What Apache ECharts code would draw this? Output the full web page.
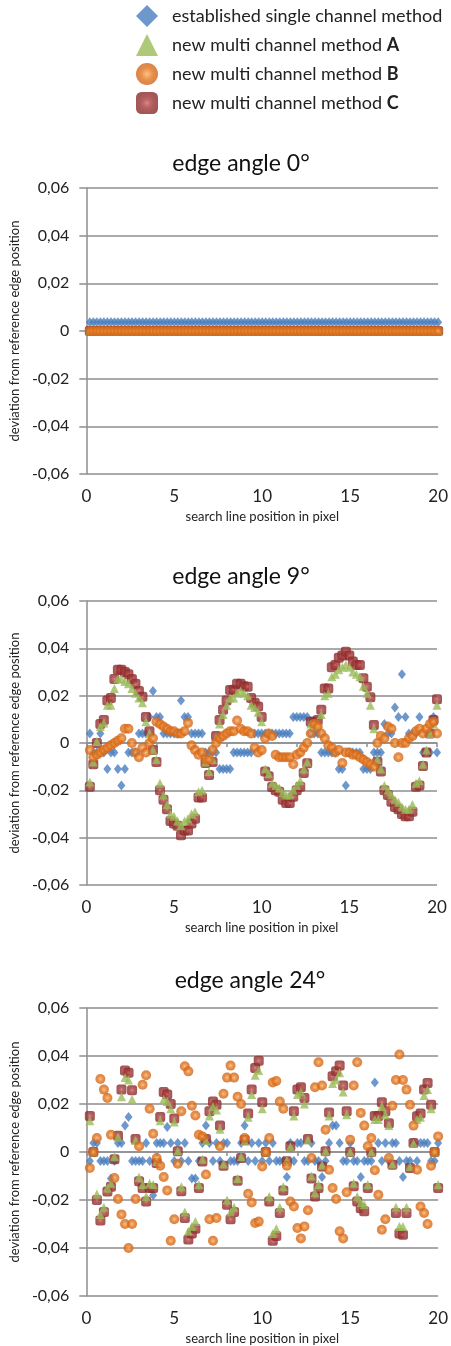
<!DOCTYPE html>
<html><head><meta charset="utf-8">
<script src="https://cdn.jsdelivr.net/npm/echarts@6/dist/echarts.min.js"></script>
<style>html,body{margin:0;padding:0;background:#fff}#c{width:451px;height:1346px}</style>
</head><body><div id="c"></div>
<script>
// ---------- data ----------
const positions = [0.2,0.4,0.6,0.8,1,1.2,1.4,1.6,1.8,2,2.2,2.4,2.6,2.8,3,3.2,3.4,3.6,3.8,4,
4.2,4.4,4.6,4.8,5,5.2,5.4,5.6,5.8,6,6.2,6.4,6.6,6.8,7,7.2,7.4,7.6,7.8,8,
8.2,8.4,8.6,8.8,9,9.2,9.4,9.6,9.8,10,10.2,10.4,10.6,10.8,11,11.2,11.4,11.6,11.8,12,
12.2,12.4,12.6,12.8,13,13.2,13.4,13.6,13.8,14,14.2,14.4,14.6,14.8,15,15.2,15.4,15.6,15.8,16,
16.2,16.4,16.6,16.8,17,17.2,17.4,17.6,17.8,18,18.2,18.4,18.6,18.8,19,19.2,19.4,19.6,19.8,20];

const chartTitles = ['edge angle 0°','edge angle 9°','edge angle 24°'];
const seriesNames = ['established single channel method','new multi channel method A','new multi channel method B','new multi channel method C'];
const xTickLabels = ['0','5','10','15','20'];
const yTickValues = [-0.06,-0.04,-0.02,0,0.02,0.04,0.06];
const yTickLabels = ['-0,06','-0,04','-0,02','0','0,02','0,04','0,06'];
const xAxisName = 'search line position in pixel';
const yAxisName = 'deviation from reference edge position';

// edge angle 0°
const single0 = [0.0037,0.0037,0.0037,0.0037,0.0037,0.0037,0.0037,0.0037,0.0037,0.0037,
0.0037,0.0037,0.0037,0.0037,0.0037,0.0037,0.0037,0.0037,0.0037,0.0037,
0.0037,0.0037,0.0037,0.0037,0.0037,0.0037,0.0037,0.0037,0.0037,0.0037,
0.0037,0.0037,0.0037,0.0037,0.0037,0.0037,0.0037,0.0037,0.0037,0.0037,
0.0037,0.0037,0.0037,0.0037,0.0037,0.0037,0.0037,0.0037,0.0037,0.0037,
0.0037,0.0037,0.0037,0.0037,0.0037,0.0037,0.0037,0.0037,0.0037,0.0037,
0.0037,0.0037,0.0037,0.0037,0.0037,0.0037,0.0037,0.0037,0.0037,0.0037,
0.0037,0.0037,0.0037,0.0037,0.0037,0.0037,0.0037,0.0037,0.0037,0.0037,
0.0037,0.0037,0.0037,0.0037,0.0037,0.0037,0.0037,0.0037,0.0037,0.0037,
0.0037,0.0037,0.0037,0.0037,0.0037,0.0037,0.0037,0.0037,0.0037,0.0037];
const multiA0 = [0,0,0,0,0,0,0,0,0,0, 0,0,0,0,0,0,0,0,0,0, 0,0,0,0,0,0,0,0,0,0, 0,0,0,0,0,0,0,0,0,0, 0,0,0,0,0,0,0,0,0,0,
0,0,0,0,0,0,0,0,0,0, 0,0,0,0,0,0,0,0,0,0, 0,0,0,0,0,0,0,0,0,0, 0,0,0,0,0,0,0,0,0,0, 0,0,0,0,0,0,0,0,0,0];
const multiB0 = [0,0,0,0,0,0,0,0,0,0, 0,0,0,0,0,0,0,0,0,0, 0,0,0,0,0,0,0,0,0,0, 0,0,0,0,0,0,0,0,0,0, 0,0,0,0,0,0,0,0,0,0,
0,0,0,0,0,0,0,0,0,0, 0,0,0,0,0,0,0,0,0,0, 0,0,0,0,0,0,0,0,0,0, 0,0,0,0,0,0,0,0,0,0, 0,0,0,0,0,0,0,0,0,0];
const multiC0 = [0,0,0,0,0,0,0,0,0,0, 0,0,0,0,0,0,0,0,0,0, 0,0,0,0,0,0,0,0,0,0, 0,0,0,0,0,0,0,0,0,0, 0,0,0,0,0,0,0,0,0,0,
0,0,0,0,0,0,0,0,0,0, 0,0,0,0,0,0,0,0,0,0, 0,0,0,0,0,0,0,0,0,0, 0,0,0,0,0,0,0,0,0,0, 0,0,0,0,0,0,0,0,0,0];

// edge angle 9°
const single9 = [0.004,-0.004,-0.004,0.004,-0.004,-0.011,-0.004,-0.004,-0.011,-0.018,
-0.011,-0.004,-0.004,-0.004,0.004,0.004,0.004,0.011,0.022,0.011,
0.011,0.004,0.004,0.004,0.004,0.004,0.018,0.011,0.011,0.004,
0.004,0.004,0.004,-0.004,-0.004,-0.004,-0.004,-0.011,-0.011,-0.011,
-0.011,-0.004,-0.004,-0.004,-0.004,-0.004,-0.004,0.004,0.004,0.004,
0.004,0.004,0.004,0.004,0.004,0.004,0.004,0.004,0.011,0.011,
0.011,0.011,0.011,0.004,0.004,0.004,-0.004,-0.004,-0.004,-0.004,
-0.004,-0.011,-0.011,-0.018,-0.004,-0.004,-0.004,-0.004,-0.011,-0.011,
-0.011,-0.004,-0.004,-0.004,0.008,0.004,0.004,0.015,0.011,0.029,
0.011,0.004,0.004,0.004,0.011,-0.004,0.004,-0.004,0.011,-0.004];
const multiA9 = [-0.0165,-0.008,0.0006,0.007,0.0085,0.016,0.016,0.023,0.027,0.027,
0.026,0.025,0.023,0.021,0.019,0.017,0.009,0.004,-0.003,-0.007,
-0.017,-0.022,-0.026,-0.030,-0.031,-0.033,-0.035,-0.033,-0.032,-0.030,
-0.029,-0.0206,-0.020,-0.008,-0.012,-0.007,0.002,0.008,0.012,0.016,
0.019,0.019,0.021,0.022,0.021,0.020,0.016,0.015,0.013,0.009,
-0.011,-0.013,-0.017,-0.018,-0.019,-0.021,-0.022,-0.022,-0.020,-0.018,
-0.016,-0.011,-0.008,0.008,0.008,0.008,0.012,0.020,0.021,0.028,
0.029,0.031,0.032,0.033,0.032,0.030,0.029,0.028,0.024,0.021,
0.016,0.006,-0.007,-0.011,-0.018,-0.020,-0.022,-0.024,-0.025,-0.027,
-0.028,-0.028,-0.026,-0.017,-0.016,-0.009,-0.003,0.004,0.008,0.016];
const multiB9 = [-0.003,-0.006,-0.005,-0.004,-0.003,-0.002,-0.001,0.000,0.001,0.002,
0.006,0.006,0.000,-0.004,-0.006,-0.002,-0.004,0.000,0.002,0.009,
0.008,0.007,0.006,0.005,0.005,0.004,0.004,0.005,0.0085,-0.001,
-0.003,-0.005,-0.004,-0.007,-0.007,-0.003,0.000,0.002,0.003,0.004,
0.005,0.005,0.0095,0.006,0.005,0.005,0.004,-0.002,-0.004,-0.003,
0.002,0.004,0.003,-0.005,-0.006,-0.006,-0.006,-0.006,-0.009,-0.005,
-0.004,-0.002,0.000,0.004,0.008,0.007,0.004,0.002,-0.001,-0.002,
-0.004,-0.003,-0.0085,-0.004,-0.004,-0.005,-0.005,-0.006,-0.007,-0.008,
-0.009,-0.010,0.000,0.003,0.002,0.007,0.006,0.000,-0.006,0.000,
0.000,0.002,0.003,0.005,0.006,0.004,0.006,0.008,0.009,0.004];
const multiC9 = [-0.0185,-0.009,0.000,0.008,0.0097,0.018,0.019,0.027,0.031,0.031,
0.030,0.029,0.027,0.025,0.022,0.0195,0.011,0.005,-0.003,-0.008,
-0.020,-0.024,-0.028,-0.033,-0.034,-0.035,-0.039,-0.037,-0.037,-0.034,
-0.032,-0.023,-0.023,-0.0085,-0.0135,-0.008,0.003,0.0097,0.014,0.018,
0.0224,0.0225,0.025,0.025,0.024,0.0238,0.019,0.017,0.0154,0.011,
-0.012,-0.014,-0.0186,-0.020,-0.0206,-0.024,-0.0254,-0.0254,-0.0227,-0.020,
-0.0185,-0.0127,-0.0086,0.009,0.009,0.0097,0.014,0.023,0.023,0.032,
0.033,0.036,0.037,0.0386,0.037,0.0344,0.033,0.033,0.0274,0.0238,
0.0193,0.0076,-0.0079,-0.012,-0.020,-0.022,-0.0248,-0.027,-0.028,-0.030,
-0.031,-0.031,-0.029,-0.0185,-0.018,-0.0097,-0.004,0.004,0.0097,0.0185];

// edge angle 24°
const single24 = [-0.0037,0.0037,0.0037,-0.0037,-0.0037,-0.0037,-0.011,-0.0037,0.0037,0.0037,
0.011,0.0146,-0.0037,-0.0037,-0.0037,-0.0037,0.0037,-0.0037,-0.018,0.0037,
0.0037,0.0037,0.0104,0.0037,-0.0037,0.0037,-0.0037,0.0037,-0.0037,-0.011,
-0.011,-0.0037,0.0037,0.011,0.0037,-0.0037,0.0037,-0.0037,0.0037,0.0037,
-0.0037,-0.0037,-0.0037,0.0037,0.011,-0.0037,0.0037,-0.0037,0.0037,-0.0037,
0.0037,-0.0037,0.0037,-0.0037,-0.0037,-0.0037,-0.0104,0.0037,-0.0037,0.0037,
0.0037,-0.0037,-0.0037,0.0037,-0.0037,-0.0037,-0.0104,-0.0037,0.0037,0.011,
0.011,0.0037,-0.0037,-0.0037,0.0037,-0.0037,-0.0037,-0.0104,-0.0037,-0.0037,
-0.0037,0.029,0.0037,-0.0037,0.0037,-0.0037,0.0037,0.0037,-0.0037,-0.0104,
-0.0037,-0.0037,0.0037,-0.0037,0.0037,0.0037,0.0037,-0.0037,-0.0037,0.0037];
const multiA24 = [0.013,0.000,-0.0175,-0.026,-0.023,-0.015,-0.013,-0.002,0.0063,0.023,
0.031,0.030,0.022,0.0048,-0.0105,-0.0135,-0.0185,-0.013,-0.0135,-0.004,
0.013,0.022,0.021,0.018,0.0125,0.0005,-0.0145,-0.025,-0.033,-0.031,
-0.029,-0.0135,-0.003,0.0048,0.015,0.019,0.0175,0.0095,-0.005,-0.020,
-0.025,-0.023,-0.011,-0.002,0.0045,0.0145,0.024,0.032,0.034,0.018,
0.000,-0.0185,-0.034,-0.032,-0.023,-0.0145,-0.0035,0.0022,0.015,0.024,
0.025,0.020,0.005,-0.010,-0.017,-0.0135,-0.0055,0.0003,0.015,0.0285,
0.030,0.033,0.025,0.0155,0.000,-0.013,-0.0185,-0.021,-0.022,-0.0135,
0.000,0.0135,0.0135,0.019,0.0155,0.011,-0.005,-0.023,-0.031,-0.031,
-0.023,-0.006,0.0035,0.0135,0.0145,0.0235,0.026,0.018,0.000,-0.0135];
const multiB24 = [-0.0067,0.000,0.0058,0.0304,0.026,0.0225,0.0072,-0.0108,-0.0196,-0.026,
-0.030,-0.040,-0.030,-0.0196,0.0024,0.028,0.032,0.018,0.0076,-0.0025,
-0.0057,-0.0104,-0.016,-0.037,-0.028,-0.0049,0.017,0.0357,0.0336,0.0193,
0.0152,0.0072,0.0065,-0.0094,-0.028,-0.037,-0.0275,0.0024,0.0243,0.031,
0.036,0.031,0.023,0.020,0.0058,-0.0174,-0.021,-0.0296,-0.029,-0.006,
0.000,0.0058,0.029,0.0296,0.021,0.018,-0.0057,-0.0206,-0.0227,-0.0317,
-0.036,-0.031,-0.0243,-0.0025,0.027,0.0374,0.0277,0.0093,-0.0074,-0.015,
-0.0196,-0.033,-0.036,-0.0168,0.0051,0.0277,0.0374,0.0163,0.011,0.0024,
0.0058,-0.0076,-0.0178,-0.0324,-0.028,-0.0025,0.0193,0.030,0.0406,0.030,
0.026,0.0197,0.011,-0.0074,-0.0227,-0.0254,-0.030,-0.0057,0.000,0.0065];
const multiC24 = [0.015,0.000,-0.020,-0.0285,-0.025,-0.0165,-0.0145,-0.003,0.0068,0.026,
0.034,0.033,0.0257,0.0054,-0.0122,-0.015,-0.0206,-0.015,-0.015,-0.0046,
0.0146,0.025,0.024,0.020,0.014,0.0003,-0.0164,-0.0275,-0.0365,-0.034,
-0.032,-0.015,-0.004,0.0054,0.017,0.021,0.0197,0.011,-0.0057,-0.022,
-0.028,-0.025,-0.012,-0.0025,0.005,0.016,0.026,0.035,0.038,0.0207,
0.000,-0.0206,-0.037,-0.035,-0.0254,-0.016,-0.0039,0.0024,0.017,0.026,
0.027,0.0225,0.0054,-0.011,-0.0185,-0.015,-0.006,0.0003,0.0165,0.0316,
0.0336,0.036,0.0277,0.017,0.000,-0.0143,-0.0206,-0.0234,-0.0247,-0.015,
0.000,0.015,0.015,0.0207,0.017,0.012,-0.0053,-0.0254,-0.034,-0.0345,
-0.0254,-0.0067,0.0037,0.0149,0.016,0.026,0.0288,0.0197,0.000,-0.015];

// ---------- layout & styles ----------
const FONT = "Lato, 'Open Sans', sans-serif";
const TXT = '#222';
const GRIDC = '#8e8e8e';
const grids = [
  {left: 79, right: 11, top: 188, height: 286},
  {left: 77, right: 14, top: 601, height: 284},
  {left: 82, right: 6, top: 1008, height: 288}
];
const titlePos = [[241, 152], [241, 565], [250, 969]];
const yNameGap = [57, 55, 60];

const panels = [
  [single0, multiA0, multiB0, multiC0],
  [single9, multiA9, multiB9, multiC9],
  [single24, multiA24, multiB24, multiC24]
];

const styles = [
  {symbol: 'diamond', symbolSize: [8, 10], itemStyle: {color: '#4A7EBF'}},
  {symbol: 'triangle', symbolSize: [9, 9], itemStyle: {color: '#9BBB59'}},
  {symbol: 'circle', symbolSize: 10, itemStyle: {color: {type: 'radial', x: 0.5, y: 0.5, r: 0.5,
    colorStops: [{offset: 0, color: '#F8B46A'}, {offset: 0.3, color: '#EE8E3A'}, {offset: 0.55, color: '#E0731E'}, {offset: 1, color: '#CF651A'}]}}},
  {symbol: 'roundRect', symbolSize: 10, itemStyle: {color: {type: 'radial', x: 0.5, y: 0.5, r: 0.5,
    colorStops: [{offset: 0, color: '#D86A6A'}, {offset: 0.3, color: '#B04444'}, {offset: 0.6, color: '#9A3434'}, {offset: 1, color: '#8A2B2B'}]}}}
];
// drawing order: single, C, A, B
const drawOrder = [0, 3, 1, 2];

function yLabel(v) {
  let best = 0;
  for (let i = 1; i < yTickValues.length; i++) {
    if (Math.abs(yTickValues[i] - v) < Math.abs(yTickValues[best] - v)) best = i;
  }
  return yTickLabels[best];
}

const option = {
  animation: false,
  backgroundColor: '#fff',
  textStyle: {fontFamily: FONT},
  title: chartTitles.map((t, k) => ({
    text: t, left: titlePos[k][0], top: titlePos[k][1], textAlign: 'center', padding: 0,
    textStyle: {fontFamily: FONT, fontSize: 23, fontWeight: 'normal', color: '#111'}
  })),
  legend: {
    orient: 'vertical', left: 136, top: 5, padding: 0,
    itemWidth: 22, itemHeight: 22, itemGap: 7, selectedMode: false,
    data: seriesNames,
    formatter: function (name) {
      const last = name.slice(-1);
      if (name.indexOf('new multi') === 0) return '{t|' + name.slice(0, -1) + '}{b|' + last + '}';
      return '{t|' + name + '}';
    },
    textStyle: {
      fontFamily: FONT, fontSize: 18, color: TXT,
      rich: {
        t: {fontFamily: FONT, fontSize: 18, color: TXT, padding: [0, 0, 0, 9]},
        b: {fontFamily: FONT, fontSize: 18, color: TXT, fontWeight: 'bold'}
      }
    }
  },
  grid: grids,
  xAxis: [],
  yAxis: [],
  series: []
};

for (let k = 0; k < 3; k++) {
  option.xAxis.push({
    gridIndex: k, type: 'value', min: 0, max: 20, interval: 5,
    axisLine: {show: false, onZero: false}, axisTick: {show: false}, splitLine: {show: false},
    axisLabel: {margin: 14, fontSize: 17, color: TXT, fontFamily: FONT,
      formatter: v => xTickLabels[Math.round(v / 5)]},
    name: xAxisName, nameLocation: 'middle', nameGap: 36,
    nameTextStyle: {fontFamily: FONT, fontSize: 13, color: TXT}
  });
  option.xAxis.push({
    gridIndex: k, type: 'value', min: 0, max: 20, interval: 4, position: 'bottom',
    axisLine: {show: true, onZero: true, lineStyle: {color: GRIDC, width: 1.5}},
    axisTick: {show: true, length: 4, lineStyle: {color: GRIDC, width: 1.5}},
    axisLabel: {show: false}, splitLine: {show: false}
  });
  option.yAxis.push({
    gridIndex: k, type: 'value', min: -0.06, max: 0.06, interval: 0.02,
    axisLine: {show: true, onZero: false, lineStyle: {color: GRIDC, width: 1.5}},
    axisTick: {show: true, length: 7, lineStyle: {color: GRIDC, width: 1.5}},
    splitLine: {show: true, lineStyle: {color: GRIDC, width: 1.5}},
    axisLabel: {margin: 17, fontSize: 16, color: TXT, fontFamily: FONT, formatter: yLabel},
    name: yAxisName, nameLocation: 'middle', nameGap: yNameGap[k],
    nameTextStyle: {fontFamily: FONT, fontSize: 13, color: TXT}
  });
  drawOrder.forEach(s => {
    const vals = panels[k][s];
    option.series.push(Object.assign({
      type: 'scatter', name: seriesNames[s], xAxisIndex: 2 * k, yAxisIndex: k,
      clip: false, silent: true,
      data: positions.map((x, i) => [x, vals[i]])
    }, styles[s]));
  });
}

const chart = echarts.init(document.getElementById('c'), null, {renderer: 'canvas'});
chart.setOption(option);
</script>
</body></html>
